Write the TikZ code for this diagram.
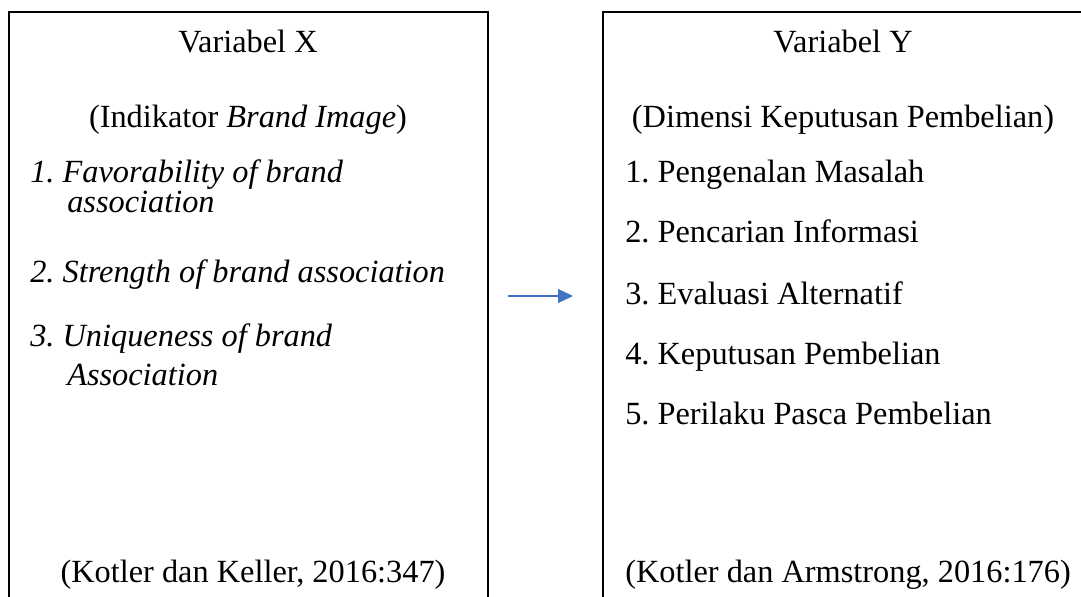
\documentclass[tikz,border=0pt]{standalone}
\usepackage{fontspec}
\setmainfont{Liberation Serif}
\usetikzlibrary{arrows.meta, positioning}
\definecolor{arrowblue}{RGB}{68, 114, 196}
\frenchspacing

\begin{document}
\begin{tikzpicture}[x=0.025cm, y=-0.025cm,
  lbl/.style={inner sep=0pt, anchor=base, font=\fontsize{23}{28}\selectfont},
  item/.style={inner sep=0pt, anchor=base west, font=\fontsize{23}{28}\selectfont},
  itemit/.style={item, font=\fontsize{23}{28}\selectfont\itshape},
  frame/.style={draw=black, line width=0.8pt}]
  \useasboundingbox (0,0) rectangle (1081,597);

  % ===== Variabel X (left) =====
  \draw[frame] (9,610) |- (488,12) -- (488,610);
  \node[lbl] (titleX) at (248, 53) {Variabel X};
  \node[lbl] (subX) at (248, 128) {(Indikator \textit{Brand Image})};

  % Indikator
  \node[itemit] (x1) at (30, 183) {1. Favorability of brand};
  \node[itemit] (x1b) at (67, 213) {association};
  \node[itemit] (x2) at (30, 283) {2. Strength of brand association};
  \node[itemit] (x3) at (30, 347) {3. Uniqueness of brand};
  \node[itemit] (x3b) at (67, 386) {Association};

  \node[lbl] (srcX) at (253, 582) {(Kotler dan Keller, 2016:347)};

  % ===== Variabel Y (right) =====
  \draw[frame] (603,610) |- (1082,12) -- (1082,610);
  \node[lbl] (titleY) at (843, 53) {Variabel Y};
  \node[lbl] (subY) at (843, 128) {(Dimensi Keputusan Pembelian)};

  % Dimensi
  \node[item] (y1) at (625, 183) {1. Pengenalan Masalah};
  \node[item] (y2) at (625, 243) {2. Pencarian Informasi};
  \node[item] (y3) at (625, 305) {3. Evaluasi Alternatif};
  \node[item] (y4) at (625, 365) {4. Keputusan Pembelian};
  \node[item] (y5) at (625, 425) {5. Perilaku Pasca Pembelian};

  \node[item] (srcY) at (625, 582) {(Kotler dan Armstrong, 2016:176)};

  % Arrow
  \coordinate (arrS) at (508, 296);
  \coordinate (arrE) at (573, 296);
  \draw[-{Triangle[length=10.6pt, width=9.9pt]}, arrowblue, line width=0.8pt] (arrS) -- (arrE);
\end{tikzpicture}
\end{document}
